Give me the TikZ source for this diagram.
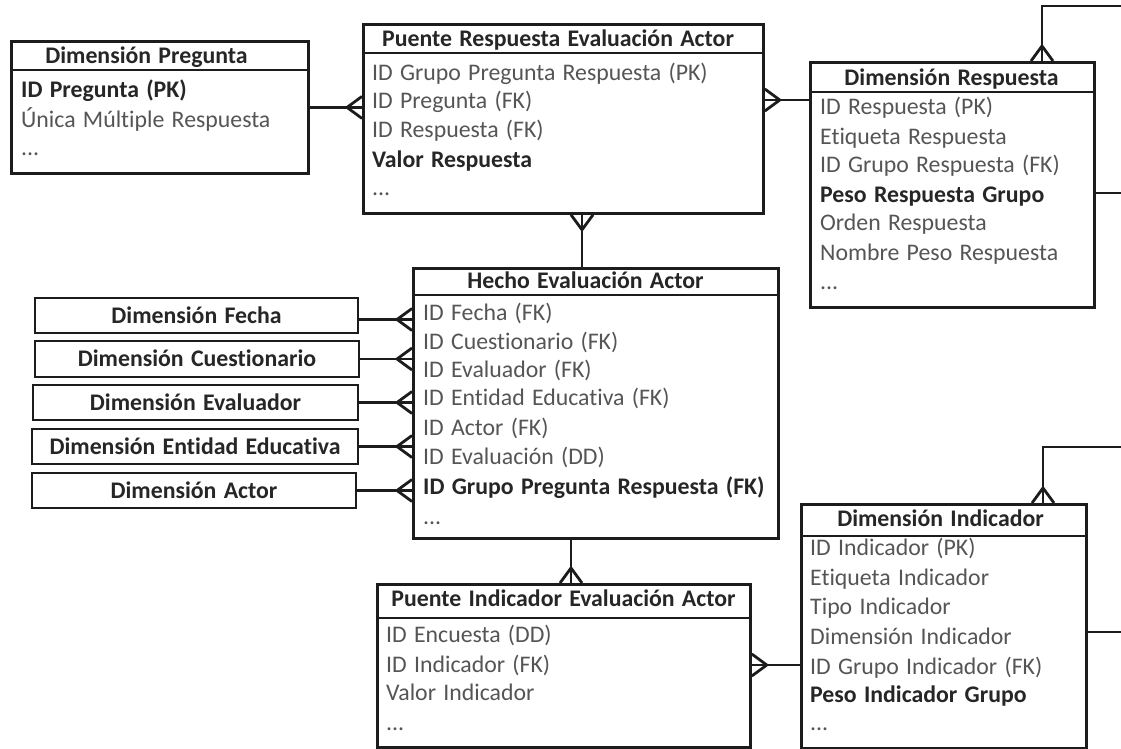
\documentclass[tikz,border=0pt]{standalone}
\usepackage{fontspec}
\setmainfont[Ligatures=NoCommon, WordSpace=1.35]{Carlito}
\usetikzlibrary{calc}
\definecolor{hdrc}{HTML}{262626}
\definecolor{bodyc}{HTML}{555555}
\definecolor{linec}{HTML}{1C1C1C}
\tikzset{
  conn/.style={draw=linec, line width=2.8pt, line cap=butt, line join=miter},
  tbox/.style={draw=linec, line width=2.8pt, rectangle, inner sep=0pt, anchor=north west, fill=white},
  hdr/.style={font=\fontsize{23.8pt}{28pt}\selectfont\bfseries, text=hdrc, inner sep=0pt, anchor=base},
  rowtxt/.style={font=\fontsize{23.8pt}{28pt}\selectfont, text=bodyc, inner sep=0pt, anchor=base west},
  rowbold/.style={rowtxt, font=\fontsize{23.8pt}{28pt}\selectfont\bfseries, text=hdrc},
  dimbox/.style={tbox, anchor=center, font=\fontsize{23.8pt}{28pt}\selectfont\bfseries, text=hdrc, text height=15pt, text depth=0pt},
  crowL/.pic={\draw[conn] (-15,0) -- (0,-11) (-15,0) -- (0,11);},
  crowR/.pic={\draw[conn] (15,0) -- (0,-11) (15,0) -- (0,11);},
  crowU/.pic={\draw[conn] (0,-15) -- (-11,0) (0,-15) -- (11,0);},
  crowD/.pic={\draw[conn] (0,15) -- (-11,0) (0,15) -- (11,0);},
}
\begin{document}
\begin{tikzpicture}[x=1pt,y=-1pt]
\useasboundingbox[fill=white] (0,0) rectangle (1121,748);

% ---------- Dimension Pregunta
\node[tbox, minimum width=297pt, minimum height=132pt] (dp) at (10,40) {};
\draw[conn] ([yshift=-30pt]dp.north west) -- ([yshift=-30pt]dp.north east);
\node[hdr] (dph) at (146.5,63) {Dimensión Pregunta};
\node[rowbold] (dp1) at (21,97) {ID Pregunta (PK)};
\node[rowtxt] (dp2) at (21,127) {Única Múltiple Respuesta};
\node[rowtxt] (dp3) at (21,155) {...};

% ---------- Puente Respuesta Evaluacion Actor
\node[tbox, minimum width=400pt, minimum height=189pt] (pra) at (362,23) {};
\draw[conn] ([yshift=-30pt]pra.north west) -- ([yshift=-30pt]pra.north east);
\node[hdr] (prah) at (558,46) {Puente Respuesta Evaluación Actor};
\node[rowtxt] (pra1) at (372,80) {ID Grupo Pregunta Respuesta (PK)};
\node[rowtxt] (pra2) at (372,108) {ID Pregunta (FK)};
\node[rowtxt] (pra3) at (372,137) {ID Respuesta (FK)};
\node[rowbold] (pra4) at (372,167) {Valor Respuesta};
\node[rowtxt] (pra5) at (372,195) {...};

% ---------- Dimension Respuesta
\node[tbox, minimum width=284pt, minimum height=245pt] (dr) at (809,61) {};
\draw[conn] ([yshift=-31pt]dr.north west) -- ([yshift=-31pt]dr.north east);
\node[hdr] (drh) at (951.5,85) {Dimensión Respuesta};
\node[rowtxt] (dr1) at (820,114) {ID Respuesta (PK)};
\node[rowtxt] (dr2) at (820,144) {Etiqueta Respuesta};
\node[rowtxt] (dr3) at (820,172) {ID Grupo Respuesta (FK)};
\node[rowbold] (dr4) at (820,202) {Peso Respuesta Grupo};
\node[rowtxt] (dr5) at (820,230) {Orden Respuesta};
\node[rowtxt] (dr6) at (820,260) {Nombre Peso Respuesta};
\node[rowtxt] (dr7) at (820,289) {...};

% ---------- Hecho Evaluacion Actor
\node[tbox, minimum width=365pt, minimum height=270pt] (he) at (412,267) {};
\draw[conn] ([yshift=-28pt]he.north west) -- ([yshift=-28pt]he.north east);
\node[hdr] (heh) at (585.5,288) {Hecho Evaluación Actor};
\node[rowtxt] (he1) at (423,320) {ID Fecha (FK)};
\node[rowtxt] (he2) at (423,349) {ID Cuestionario (FK)};
\node[rowtxt] (he3) at (423,377) {ID Evaluador (FK)};
\node[rowtxt] (he4) at (423,405) {ID Entidad Educativa (FK)};
\node[rowtxt] (he5) at (423,435) {ID Actor (FK)};
\node[rowtxt] (he6) at (423,464) {ID Evaluación (DD)};
\node[rowbold] (he7) at (423,494) {ID Grupo Pregunta Respuesta (FK)};
\node[rowtxt] (he8) at (423,524) {...};

% ---------- Left dimensions
\node[dimbox, minimum width=323pt, minimum height=35pt] (dfe) at (196.5,315.5) {Dimensión Fecha};
\node[dimbox, minimum width=324pt, minimum height=36pt] (dcu) at (197,359) {Dimensión Cuestionario};
\node[dimbox, minimum width=325pt, minimum height=35pt] (dev) at (195.5,402.5) {Dimensión Evaluador};
\node[dimbox, minimum width=326pt, minimum height=35pt] (den) at (195,446.5) {Dimensión Entidad Educativa};
\node[dimbox, minimum width=324pt, minimum height=35pt] (dac) at (194,490.5) {Dimensión Actor};

% ---------- Puente Indicador Evaluacion Actor
\node[tbox, minimum width=373pt, minimum height=163pt] (pi) at (376,583) {};
\draw[conn] ([yshift=-35pt]pi.north west) -- ([yshift=-35pt]pi.north east);
\node[hdr] (pih) at (563.5,606) {Puente Indicador Evaluación Actor};
\node[rowtxt] (pi1) at (386,642) {ID Encuesta (DD)};
\node[rowtxt] (pi2) at (386,672) {ID Indicador (FK)};
\node[rowtxt] (pi3) at (386,700) {Valor Indicador};
\node[rowtxt] (pi4) at (386,730) {...};

% ---------- Dimension Indicador
\node[tbox, minimum width=285pt, minimum height=244pt] (di) at (800,503) {};
\draw[conn] ([yshift=-33pt]di.north west) -- ([yshift=-33pt]di.north east);
\node[hdr] (dih) at (940.5,526) {Dimensión Indicador};
\node[rowtxt] (di1) at (810,555) {ID Indicador (PK)};
\node[rowtxt] (di2) at (810,585) {Etiqueta Indicador};
\node[rowtxt] (di3) at (810,614) {Tipo Indicador};
\node[rowtxt] (di4) at (810,644) {Dimensión Indicador};
\node[rowtxt] (di5) at (810,674) {ID Grupo Indicador (FK)};
\node[rowbold] (di6) at (810,702) {Peso Indicador Grupo};
\node[rowtxt] (di7) at (810,730) {...};

% ---------- off-picture ends
\coordinate (edA) at (1125,6);
\coordinate (edB) at (1125,193);
\coordinate (edC) at (1125,447);
\coordinate (edD) at (1125,632);

% ---------- connectors
\draw[conn] (dp.east) -- (dp.east -| pra.west);
\pic at (dp.east -| pra.west) {crowL};

\draw[conn] (pra.east |- 0,100) -- (dr.west |- 0,100);
\pic at (pra.east |- 0,100) {crowR};

\draw[conn] (pra.south -| 582,0) -- (he.north -| 582,0);
\pic at (pra.south -| 582,0) {crowD};

\draw[conn] (dr.north -| 1042,0) |- (edA);
\pic at (dr.north -| 1042,0) {crowU};
\draw[conn] (dr.east |- edB) -- (edB);

\draw[conn] ([yshift=-4pt]dfe.east) -- ([yshift=-4pt]dfe.east -| he.west);
\pic at ([yshift=-4pt]dfe.east -| he.west) {crowL};
\draw[conn] (dcu.east) -- (dcu.east -| he.west);
\pic at (dcu.east -| he.west) {crowL};
\draw[conn] (dev.east) -- (dev.east -| he.west);
\pic at (dev.east -| he.west) {crowL};
\draw[conn] (den.east) -- (den.east -| he.west);
\pic at (den.east -| he.west) {crowL};
\draw[conn] (dac.east) -- (dac.east -| he.west);
\pic at (dac.east -| he.west) {crowL};

\draw[conn] (he.south -| 571,0) -- (pi.north -| 571,0);
\pic at (pi.north -| 571,0) {crowU};

\draw[conn] (pi.east |- 0,665) -- (di.west |- 0,665);
\pic at (pi.east |- 0,665) {crowR};

\draw[conn] (di.north -| 1043,0) |- (edC);
\pic at (di.north -| 1043,0) {crowU};
\draw[conn] (di.east |- edD) -- (edD);
\end{tikzpicture}
\end{document}
